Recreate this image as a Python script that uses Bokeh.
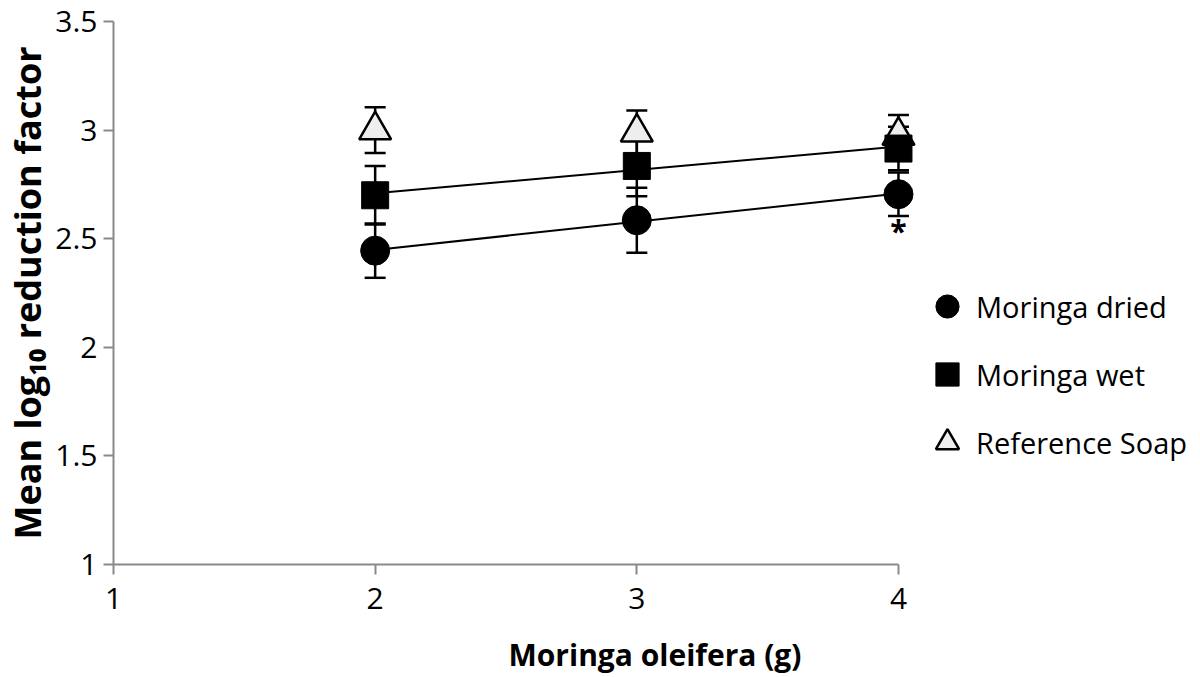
import numpy as np
from bokeh.plotting import figure
from bokeh.models import (Range1d, Whisker, ColumnDataSource, Legend, LegendItem,
                          FixedTicker, TeeHead)
from bokeh.embed import file_html
from bokeh.resources import INLINE
from bokeh.core.properties import value

# ---- data ----
doses = [2, 3, 4]
dried_mean = [2.445, 2.585, 2.705]
dried_err = [0.125, 0.15, 0.10]
wet_mean = [2.70, 2.835, 2.915]
wet_err = [0.135, 0.14, 0.10]
soap_mean = [3.00, 2.99, 2.975]
soap_err = [0.105, 0.10, 0.095]
series_names = ["Moringa dried", "Moringa wet", "Reference Soap"]
x_ticks = [1, 2, 3, 4]
y_ticks = [1, 1.5, 2, 2.5, 3, 3.5]
star_x = [4]
star_y = [2.54]
star_text = ["*"]

FONT = "Open Sans"
AXIS_COLOR = "#898989"

p = figure(width=1200, height=677, output_backend="svg", toolbar_location=None,
           x_range=Range1d(1, 5.139), y_range=Range1d(1, 3.5),
           min_border_left=113, min_border_right=4, min_border_top=21,
           min_border_bottom=113)
p.outline_line_color = None
p.xgrid.grid_line_color = None
p.ygrid.grid_line_color = None
p.background_fill_color = "white"
p.border_fill_color = "white"


def src(mean, err):
    m = np.array(mean)
    e = np.array(err)
    return ColumnDataSource(dict(x=doses, y=mean, upper=list(m + e), lower=list(m - e)))


s_dried = src(dried_mean, dried_err)
s_wet = src(wet_mean, wet_err)
s_soap = src(soap_mean, soap_err)

# trend lines (linear fit of the plotted means)
for mean in (dried_mean, wet_mean):
    k, b = np.polyfit(doses, mean, 1)
    fx = [doses[0], doses[-1]]
    p.line(fx, [k * v + b for v in fx], line_color="black", line_width=2)

for s in (s_soap, s_wet, s_dried):
    w = Whisker(base="x", upper="upper", lower="lower", source=s,
                line_color="black", line_width=2.5,
                upper_head=TeeHead(size=21, line_color="black", line_width=2.5),
                lower_head=TeeHead(size=21, line_color="black", line_width=2.5))
    p.add_layout(w)

r_soap = p.scatter("x", "y", source=s_soap, marker="triangle", size=32,
                   fill_color="#eeeeee", line_color="black", line_width=2.5)
r_wet = p.scatter("x", "y", source=s_wet, marker="square", size=27,
                  fill_color="black", line_color="black", line_width=1)
r_dried = p.scatter("x", "y", source=s_dried, marker="circle", size=29,
                    fill_color="black", line_color="black", line_width=1)

p.text(x=star_x, y=star_y, text=star_text, text_align="center", text_baseline="middle",
       text_font=value(FONT), text_font_size="30px", text_font_style="bold",
       text_color="black")

# axes
for ax in (p.xaxis[0], p.yaxis[0]):
    ax.axis_line_color = AXIS_COLOR
    ax.axis_line_width = 2
    ax.major_tick_line_color = AXIS_COLOR
    ax.major_tick_line_width = 2
    ax.major_tick_out = 10
    ax.major_tick_in = 0
    ax.minor_tick_line_color = None
    ax.major_label_text_font = FONT
    ax.major_label_text_font_size = "30px"
    ax.major_label_text_color = "black"
    ax.axis_label_text_font = FONT
    ax.axis_label_text_font_style = "bold"
    ax.axis_label_text_color = "black"

p.xaxis.axis_label_text_font_size = "30px"
p.yaxis.axis_label_text_font_size = "36px"
p.xaxis.bounds = (1, 4)
p.xaxis.ticker = FixedTicker(ticks=x_ticks)
p.yaxis.ticker = FixedTicker(ticks=y_ticks)
p.yaxis.major_label_overrides = {1: "1", 2: "2", 3: "3"}
p.xaxis.major_label_standoff = 13
p.yaxis.major_label_standoff = 6
p.xaxis.axis_label = "Moringa oleifera (g)"
p.yaxis.axis_label = "Mean log\u2081\u2080 reduction factor"
p.xaxis.axis_label_standoff = 22
p.yaxis.axis_label_standoff = 0

legend = Legend(items=[LegendItem(label=series_names[0], renderers=[r_dried]),
                       LegendItem(label=series_names[1], renderers=[r_wet]),
                       LegendItem(label=series_names[2], renderers=[r_soap])],
                location=(805, 91), orientation="vertical",
                glyph_width=58, glyph_height=62, label_height=62, spacing=6,
                label_standoff=0, padding=0, margin=0,
                border_line_color=None, background_fill_alpha=0,
                label_text_font=FONT, label_text_font_size="29px",
                label_text_color="black", label_text_baseline="middle")
p.add_layout(legend)

open("out.html", "w").write(file_html(p, INLINE))
